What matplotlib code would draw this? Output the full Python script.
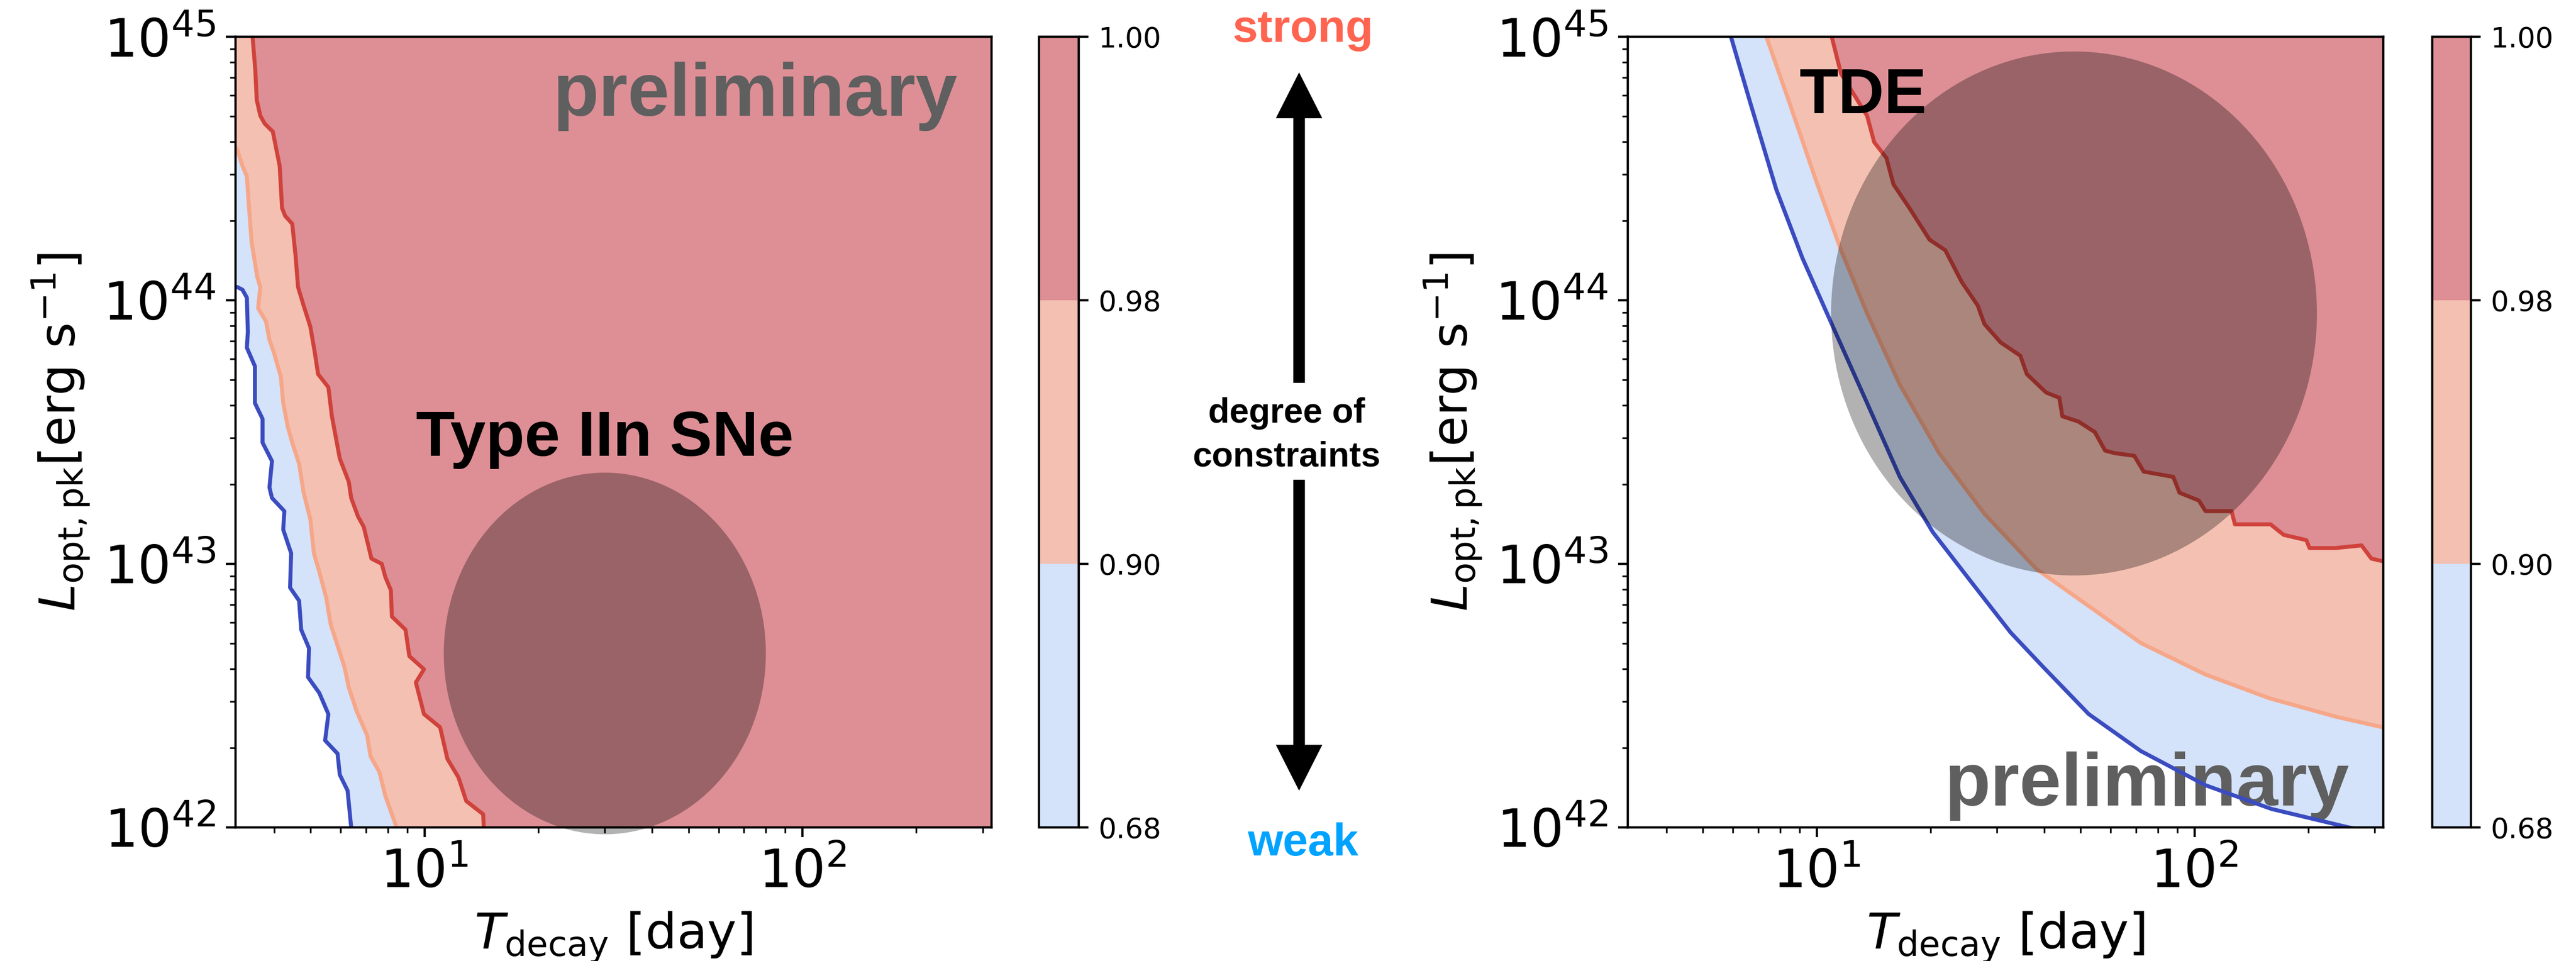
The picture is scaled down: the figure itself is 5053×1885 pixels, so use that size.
import numpy as np
import matplotlib
matplotlib.use("Agg")
import matplotlib.pyplot as plt
from matplotlib.colors import ListedColormap, BoundaryNorm
from matplotlib.cm import ScalarMappable
from matplotlib.patches import FancyArrowPatch

LEVELS = [0.68, 0.90, 0.98, 1.00]
FILL_COLORS = ["#d4e2fa", "#f4c0b2", "#dd8f95"]
LINE_COLORS = ["#3b4cc0", "#f6a789", "#d0423c"]

BOLD = dict(family="Liberation Sans", weight="bold")

# Type IIn SNe panel: contour boundaries (T_decay in day, log10 L_opt,pk)
sn_t_68 = [2.5, 3.2, 3.30, 3.39, 3.41, 3.39, 3.56, 3.56, 3.73, 3.73, 3.95, 3.89, 3.95, 4.26,
           4.23, 4.44, 4.41, 4.66, 4.72, 4.95, 4.92, 5.27, 5.57, 5.46, 5.89, 5.97, 6.26, 6.40, 6.45]
sn_logl_68 = [44.05, 44.05, 44.04, 44.01, 43.88, 43.82, 43.75, 43.61, 43.55, 43.46, 43.39, 43.29,
              43.25, 43.20, 43.13, 43.04, 42.91, 42.86, 42.75, 42.68, 42.57, 42.51, 42.43, 42.33,
              42.28, 42.20, 42.14, 42.00, 41.95]

sn_t_90 = [3.0, 3.2, 3.30, 3.39, 3.44, 3.49, 3.61, 3.68, 3.63, 3.81, 3.89, 4.00, 4.17, 4.23,
           4.35, 4.47, 4.66, 4.79, 4.99, 5.10, 5.27, 5.50, 5.65, 5.89, 6.14, 6.31, 6.62, 7.05,
           7.20, 7.60, 7.88, 8.44, 8.60]
sn_logl_90 = [44.62, 44.57, 44.51, 44.47, 44.34, 44.22, 44.09, 44.05, 43.97, 43.92, 43.85, 43.80,
              43.71, 43.61, 43.52, 43.46, 43.38, 43.27, 43.17, 43.04, 42.97, 42.87, 42.77, 42.69,
              42.61, 42.53, 42.44, 42.35, 42.27, 42.21, 42.12, 42.00, 41.95]

sn_t_98 = [3.50, 3.51, 3.57, 3.60, 3.68, 3.78, 3.97, 4.14, 4.20, 4.28, 4.47, 4.56, 4.63, 4.79,
           4.99, 5.13, 5.23, 5.57, 5.69, 5.97, 6.31, 6.40, 6.67, 6.91, 7.24, 7.71, 7.88, 8.15,
           8.20, 8.91, 9.12, 9.97, 9.49, 9.97, 11.0, 11.5, 12.3, 12.9, 14.3, 14.4]
sn_logl_98 = [45.05, 45.00, 44.87, 44.76, 44.70, 44.67, 44.64, 44.51, 44.35, 44.32, 44.29, 44.17,
              44.05, 43.98, 43.90, 43.80, 43.72, 43.67, 43.56, 43.40, 43.31, 43.25, 43.18, 43.14,
              43.02, 43.00, 42.95, 42.90, 42.80, 42.75, 42.65, 42.60, 42.55, 42.43, 42.38, 42.26,
              42.19, 42.10, 42.05, 41.95]

# TDE panel
tde_t_68 = [5.80, 5.93, 6.67, 7.82, 9.17, 11.2, 13.6, 16.6, 20.3, 25.7, 32.6, 39.7, 52.5, 72.1,
            107, 160, 256, 400]
tde_logl_68 = [45.05, 45.00, 44.75, 44.42, 44.16, 43.88, 43.61, 43.33, 43.12, 42.93, 42.74, 42.61,
               42.43, 42.29, 42.16, 42.07, 42.00, 41.95]

tde_t_90 = [7.20, 7.36, 8.47, 9.93, 11.6, 13.6, 16.6, 21.1, 27.8, 38.2, 52.5, 72.1, 107, 158,
            237, 315, 400]
tde_logl_90 = [45.05, 45.00, 44.75, 44.46, 44.19, 43.95, 43.68, 43.42, 43.19, 42.98, 42.84, 42.70,
               42.58, 42.49, 42.42, 42.38, 42.37]

tde_t_98 = [10.8, 10.96, 11.6, 13.6, 14.2, 15.3, 15.97, 17.6, 19.9, 21.9, 24.2, 26.7, 27.8, 30.7,
            34.6, 36.0, 40.5, 43.9, 44.7, 49.3, 54.5, 58.0, 61.5, 69.3, 73.4, 87.9, 91.3, 102.8,
            107, 125.4, 128, 159, 172.3, 197.8, 201.7, 236.5, 277, 294, 315, 400]
tde_logl_98 = [45.05, 45.00, 44.86, 44.70, 44.60, 44.54, 44.44, 44.35, 44.23, 44.19, 44.07, 43.98,
               43.91, 43.84, 43.79, 43.72, 43.65, 43.63, 43.56, 43.54, 43.50, 43.43, 43.42, 43.41,
               43.35, 43.33, 43.27, 43.24, 43.20, 43.20, 43.15, 43.15, 43.11, 43.09, 43.06, 43.06,
               43.07, 43.02, 43.01, 43.01]

# source populations: centre (T, log10 L) and half-axes in dex
SN_BLOB = (30.0, 42.66, 0.426, 0.686)
TDE_BLOB = (48.0, 43.95, 0.643, 0.994)

XLIM = (10 ** 0.5, 10 ** 2.5)
YLIM = (1e42, 1e45)


def region(t, logl):
    # everything to the right of / above a contour boundary
    x = list(t) + [1e4, 1e4, t[0]]
    y = list(logl) + [logl[-1], 46.0, 46.0]
    return np.array(x), 10.0 ** np.array(y)


def draw_panel(ax, curves, blob, label, label_xy, prelim_y):
    for (t, logl), fc in zip(curves, FILL_COLORS):
        x, y = region(t, logl)
        ax.fill(x, y, color=fc, lw=0, zorder=1)
    for (t, logl), lc in zip(curves, LINE_COLORS):
        ax.plot(t, 10.0 ** np.array(logl), color=lc, lw=1.4, zorder=2)

    tc, lc, a, b = blob
    th = np.linspace(0, 2 * np.pi, 400)
    ex = 10 ** (np.log10(tc) + a * np.cos(th))
    ey = 10 ** (lc + b * np.sin(th))
    ax.fill(ex, ey, color="k", alpha=0.3, lw=0, zorder=3, clip_on=False)

    ax.text(label_xy[0], 10 ** label_xy[1], label, fontsize=22.5, color="k",
            ha=label_xy[2], va="baseline", zorder=4, **BOLD)
    ax.text(0.687, prelim_y, "preliminary", transform=ax.transAxes, fontsize=26.5,
            color="#5f5f5f", ha="center", va="baseline", zorder=1.5, **BOLD)

    ax.set_xscale("log")
    ax.set_yscale("log")
    ax.set_xlim(*XLIM)
    ax.set_ylim(*YLIM)
    ax.tick_params(labelsize=18.5)
    ax.set_xlabel(r"$T_{\rm decay}$ [day]", fontsize=17.5)
    ax.set_ylabel(r"$L_{\rm opt,pk}[{\rm erg\ s^{-1}}]$", fontsize=17.5)


def add_cbar(fig, rect):
    cax = fig.add_axes(rect)
    cmap = ListedColormap(FILL_COLORS)
    norm = BoundaryNorm(LEVELS, cmap.N)
    cb = fig.colorbar(ScalarMappable(norm=norm, cmap=cmap), cax=cax,
                      ticks=LEVELS, format="%.2f")
    cb.ax.tick_params(labelsize=10)
    return cb


fig = plt.figure(figsize=(12.6325, 4.7125), dpi=400)

ax1 = fig.add_axes([0.0914, 0.1390, 0.2935, 0.8228])
ax2 = fig.add_axes([0.6319, 0.1390, 0.2933, 0.8228])

draw_panel(ax1, [(sn_t_68, sn_logl_68), (sn_t_90, sn_logl_90), (sn_t_98, sn_logl_98)],
           SN_BLOB, "Type IIn SNe", (30.0, 43.41, "center"), 0.900)
draw_panel(ax2, [(tde_t_68, tde_logl_68), (tde_t_90, tde_logl_90), (tde_t_98, tde_logl_98)],
           TDE_BLOB, "TDE", (8.99, 44.71, "left"), 0.028)

add_cbar(fig, [0.4033, 0.1390, 0.0154, 0.8228])
add_cbar(fig, [0.9442, 0.1390, 0.0150, 0.8228])

# middle "degree of constraints" arrow
for tail, tip in [((0.5043, 0.6016), (0.5043, 0.9247)), ((0.5043, 0.5008), (0.5043, 0.1772))]:
    arr = FancyArrowPatch(tail, tip, transform=fig.transFigure,
                          arrowstyle="simple,head_length=16.2,head_width=16.4,tail_width=4.1",
                          mutation_scale=1, shrinkA=0, shrinkB=0, color="k", lw=0)
    fig.add_artist(arr)

fig.text(0.5058, 0.9565, "strong", color="#ff6450", fontsize=16, ha="center", va="baseline", **BOLD)
fig.text(0.5058, 0.1098, "weak", color="#00a3ff", fontsize=16, ha="center", va="baseline", **BOLD)
fig.text(0.4994, 0.5602, "degree of", color="k", fontsize=12.3, ha="center", va="baseline", **BOLD)
fig.text(0.4994, 0.5151, "constraints", color="k", fontsize=12.3, ha="center", va="baseline", **BOLD)

fig.savefig("out.png", dpi=400)
